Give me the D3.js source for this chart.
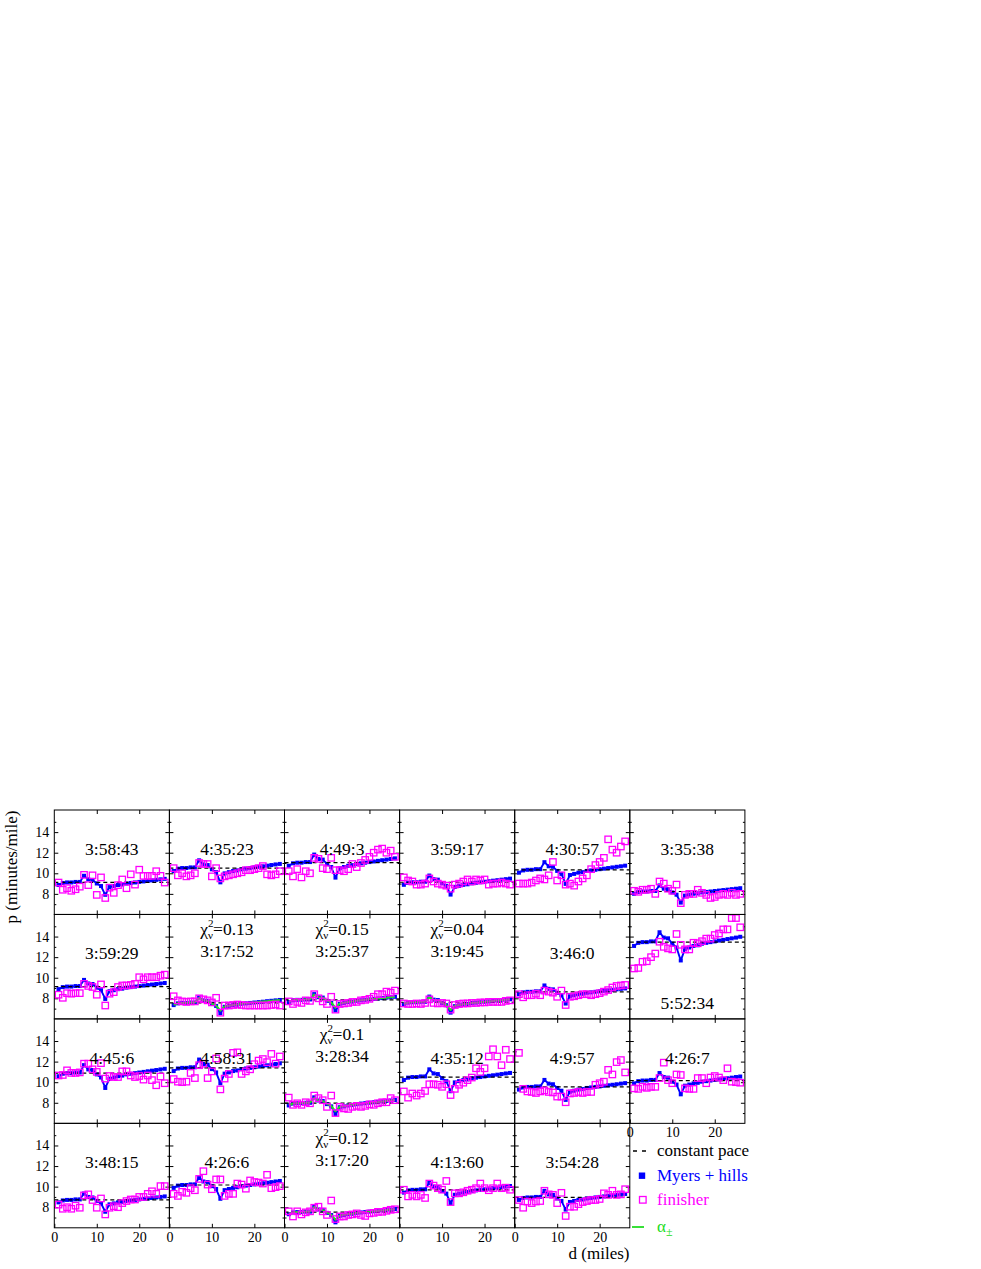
<!DOCTYPE html>
<html><head><meta charset="utf-8">
<script src="https://cdn.jsdelivr.net/npm/d3@7"></script>
<style>
body{margin:0;background:#fff;}
svg{display:block;font-family:"Liberation Serif","Times New Roman","DejaVu Serif",serif;}
svg text{font-family:"Liberation Serif","Times New Roman","DejaVu Serif",serif;}
</style>
</head><body>
<svg id="chart" width="981" height="1269"></svg>
<script>
const miles = [1,2,3,4,5,6,7,8,9,10,11,12,13,14,15,16,17,18,19,20,21,22,23,24,25,26];
const titles = ["3:58:43","4:35:23","4:49:3","3:59:17","4:30:57","3:35:38",
  "3:59:29","3:17:52","3:25:37","3:19:45","3:46:0","5:52:34",
  "4:45:6","4:58:31","3:28:34","4:35:12","4:9:57","4:26:7",
  "3:48:15","4:26:6","3:17:20","4:13:60","3:54:28"];
const chiValues = ["","","","","","",
  "","0.13","0.15","0.04","","",
  "","","0.1","","","",
  "","","0.12","",""];
const constantPace = [9.11,10.51,11.03,9.13,10.34,8.23,9.14,7.55,7.85,7.62,8.63,13.46,
  10.88,11.39,7.96,10.50,9.54,10.16,8.71,10.16,7.53,9.69,8.95];
const myers = [
 [8.86,9.06,9.11,9.11,9.16,9.16,9.76,9.41,9.36,9.01,8.76,7.91,8.66,8.76,8.86,8.91,9.01,9.06,9.11,9.16,9.21,9.26,9.31,9.36,9.41,9.46],
 [10.22,10.45,10.51,10.51,10.57,10.57,11.26,10.86,10.80,10.39,10.11,9.12,9.99,10.11,10.22,10.28,10.39,10.45,10.51,10.57,10.63,10.68,10.74,10.80,10.86,10.91],
 [10.73,10.97,11.03,11.03,11.09,11.09,11.82,11.39,11.33,10.91,10.61,9.58,10.49,10.61,10.73,10.79,10.91,10.97,11.03,11.09,11.15,11.21,11.27,11.33,11.39,11.45],
 [8.88,9.08,9.13,9.13,9.18,9.18,9.78,9.43,9.38,9.03,8.78,7.93,8.68,8.78,8.88,8.93,9.03,9.08,9.13,9.18,9.23,9.28,9.33,9.38,9.43,9.48],
 [10.06,10.28,10.34,10.34,10.40,10.40,11.08,10.68,10.63,10.23,9.94,8.97,9.83,9.94,10.06,10.11,10.23,10.28,10.34,10.40,10.45,10.51,10.57,10.63,10.68,10.74],
 [8.01,8.19,8.23,8.23,8.28,8.28,8.82,8.50,8.46,8.14,7.92,7.15,7.83,7.92,8.01,8.05,8.14,8.19,8.23,8.28,8.32,8.37,8.41,8.46,8.50,8.55],
 [8.89,9.09,9.14,9.14,9.19,9.19,9.79,9.44,9.39,9.04,8.79,7.94,8.69,8.79,8.89,8.94,9.04,9.09,9.14,9.19,9.24,9.29,9.34,9.39,9.44,9.49],
 [7.34,7.51,7.55,7.55,7.59,7.59,8.09,7.80,7.76,7.47,7.26,6.55,7.18,7.26,7.34,7.38,7.47,7.51,7.55,7.59,7.63,7.67,7.72,7.76,7.80,7.84],
 [7.64,7.81,7.85,7.85,7.89,7.89,8.41,8.11,8.07,7.76,7.55,6.82,7.46,7.55,7.64,7.68,7.76,7.81,7.85,7.89,7.94,7.98,8.02,8.07,8.11,8.15],
 [7.41,7.58,7.62,7.62,7.66,7.66,8.17,7.87,7.83,7.54,7.33,6.61,7.24,7.33,7.41,7.45,7.54,7.58,7.62,7.66,7.70,7.75,7.79,7.83,7.87,7.91],
 [8.39,8.58,8.63,8.63,8.68,8.68,9.25,8.92,8.87,8.54,8.30,7.49,8.20,8.30,8.39,8.44,8.54,8.58,8.63,8.68,8.73,8.77,8.82,8.87,8.92,8.96],
 [13.09,13.39,13.46,13.46,13.53,13.53,14.42,13.90,13.83,13.31,12.94,11.68,12.79,12.94,13.09,13.16,13.31,13.39,13.46,13.53,13.61,13.68,13.76,13.83,13.90,13.98],
 [10.58,10.82,10.88,10.88,10.94,10.94,11.66,11.24,11.18,10.76,10.46,9.44,10.34,10.46,10.58,10.64,10.76,10.82,10.88,10.94,11.00,11.06,11.12,11.18,11.24,11.30],
 [11.08,11.33,11.39,11.39,11.45,11.45,12.20,11.77,11.70,11.27,10.95,9.89,10.83,10.95,11.08,11.14,11.27,11.33,11.39,11.45,11.52,11.58,11.64,11.70,11.77,11.83],
 [7.74,7.92,7.96,7.96,8.00,8.00,8.53,8.22,8.18,7.87,7.65,6.91,7.57,7.65,7.74,7.79,7.87,7.92,7.96,8.00,8.05,8.09,8.14,8.18,8.22,8.27],
 [10.21,10.44,10.50,10.50,10.56,10.56,11.25,10.85,10.79,10.39,10.10,9.12,9.98,10.10,10.21,10.27,10.39,10.44,10.50,10.56,10.62,10.67,10.73,10.79,10.85,10.90],
 [9.28,9.49,9.54,9.54,9.59,9.59,10.22,9.86,9.80,9.44,9.17,8.28,9.07,9.17,9.28,9.33,9.44,9.49,9.54,9.59,9.65,9.70,9.75,9.80,9.86,9.91],
 [9.88,10.10,10.16,10.16,10.22,10.22,10.89,10.50,10.44,10.05,9.77,8.82,9.66,9.77,9.88,9.94,10.05,10.10,10.16,10.22,10.27,10.33,10.38,10.44,10.50,10.55],
 [8.47,8.66,8.71,8.71,8.76,8.76,9.33,9.00,8.95,8.61,8.37,7.56,8.28,8.37,8.47,8.52,8.61,8.66,8.71,8.76,8.81,8.85,8.90,8.95,9.00,9.05],
 [9.88,10.10,10.16,10.16,10.22,10.22,10.89,10.50,10.44,10.05,9.77,8.82,9.66,9.77,9.88,9.94,10.05,10.10,10.16,10.22,10.27,10.33,10.38,10.44,10.50,10.55],
 [7.32,7.49,7.53,7.53,7.57,7.57,8.07,7.78,7.74,7.45,7.24,6.53,7.16,7.24,7.32,7.36,7.45,7.49,7.53,7.57,7.61,7.65,7.70,7.74,7.78,7.82],
 [9.42,9.64,9.69,9.69,9.74,9.74,10.38,10.01,9.96,9.58,9.32,8.41,9.21,9.32,9.42,9.48,9.58,9.64,9.69,9.74,9.80,9.85,9.90,9.96,10.01,10.06],
 [8.71,8.90,8.95,8.95,9.00,9.00,9.59,9.24,9.20,8.85,8.61,7.77,8.51,8.61,8.71,8.75,8.85,8.90,8.95,9.00,9.05,9.10,9.15,9.20,9.24,9.29]
];
const finisher = [
 [9.1,8.4,8.55,8.3,8.45,8.7,9.85,8.85,9.8,7.9,9.6,7.6,8.6,8.1,8.85,9.4,8.55,9.9,8.9,10.35,9.75,9.75,9.75,10.2,9.75,9.1],
 [10.5,9.8,10.0,9.7,9.8,10.0,11.0,10.9,10.9,9.7,10.5,9.5,9.7,9.8,9.9,10.0,10.1,10.3,10.3,10.4,10.5,10.7,9.9,9.8,9.9,10.2],
 [10.2,9.7,10.4,9.6,10.2,10.0,11.5,11.4,10.5,10.4,11.5,10.3,10.3,10.2,10.4,10.9,10.6,11.0,11.3,11.6,12.0,12.3,12.4,12.0,12.2,11.6],
 [9.6,9.3,9.2,8.9,8.9,9.0,9.5,9.2,9.0,8.9,8.8,8.5,8.9,9.0,9.2,9.4,9.2,9.4,9.3,9.4,8.9,9.0,9.0,9.1,9.0,8.9],
 [9.0,9.0,9.0,9.1,9.3,9.5,9.4,9.8,11.1,9.3,9.8,8.9,9.0,8.8,9.2,9.5,9.8,10.4,10.8,11.1,11.5,13.3,12.3,12.0,12.6,13.1],
 [8.3,8.2,8.4,8.4,8.5,8.0,9.2,9.0,8.5,8.3,8.9,7.1,7.9,8.0,8.0,8.4,8.1,7.9,7.6,7.7,7.9,8.0,7.9,8.1,7.9,8.0],
 [8.35,8.05,8.5,8.45,8.5,8.5,9.4,9.2,9.1,8.35,9.35,7.3,8.45,8.6,9.1,9.25,9.25,9.3,9.4,10.05,9.85,10.05,10.05,10.05,10.2,10.3],
 [8.2,7.8,7.7,7.65,7.7,7.7,8.0,7.9,7.8,7.6,8.05,6.6,7.3,7.3,7.35,7.4,7.35,7.3,7.3,7.3,7.3,7.3,7.3,7.35,7.4,7.3],
 [7.7,7.45,7.65,7.55,7.8,7.75,8.4,8.0,7.7,7.45,8.15,6.9,7.45,7.5,7.55,7.65,7.65,7.8,7.85,7.95,8.15,8.4,8.4,8.65,8.55,8.75],
 [7.5,7.45,7.45,7.5,7.45,7.55,7.9,7.55,7.5,7.55,7.5,6.9,7.35,7.45,7.5,7.5,7.55,7.55,7.6,7.6,7.65,7.65,7.65,7.65,7.75,7.8],
 [8.4,8.1,8.3,8.3,8.45,8.3,8.75,8.65,8.55,8.15,8.75,7.35,8.15,8.2,8.3,8.4,8.4,8.3,8.4,8.5,8.65,8.8,9.05,9.2,9.25,9.3],
 [10.9,10.95,11.55,11.6,12.0,12.35,13.5,13.0,12.85,12.75,14.25,13.2,12.75,12.75,13.4,13.35,13.55,13.8,13.8,14.15,14.3,14.7,14.7,15.8,15.8,14.9],
 [10.65,10.7,11.15,10.9,10.9,10.95,11.8,11.8,11.25,11.0,11.85,10.35,10.6,10.5,10.5,11.05,11.05,10.65,10.5,10.6,10.25,10.65,10.2,9.7,10.55,9.9],
 [10.3,10.05,10.0,10.05,10.9,10.4,11.65,11.8,10.4,11.05,12.3,9.3,10.35,10.8,12.85,12.9,10.8,11.05,11.25,11.75,12.1,12.25,11.95,12.75,11.8,12.5],
 [8.5,7.8,7.95,7.8,8.05,7.95,8.7,8.45,8.25,7.6,8.7,7.0,7.6,7.45,7.4,7.6,7.7,7.6,7.7,7.85,7.8,7.95,8.05,8.05,8.45,8.25],
 [9.1,8.5,8.9,8.7,8.9,9.15,9.8,9.8,9.75,9.55,9.8,8.75,9.35,9.75,9.95,10.2,10.45,11.35,11.0,11.35,12.5,13.2,12.5,11.65,13.15,12.25],
 [12.85,9.35,9.1,9.05,8.95,9.1,9.2,9.05,9.0,8.6,8.6,8.05,8.9,8.95,9.05,8.95,9.05,9.05,9.75,9.9,10.05,11.2,10.75,11.95,12.15,10.95],
 [9.4,9.35,9.55,9.45,9.55,9.55,10.4,11.9,10.2,9.9,10.75,10.7,9.4,9.35,9.35,10.4,10.4,9.9,10.45,10.6,10.45,10.2,11.35,10.05,10.0,9.95],
 [8.25,7.85,8.0,7.85,8.15,7.95,9.15,9.25,8.7,7.95,8.85,7.3,7.95,8.1,8.0,8.4,8.6,8.75,8.75,9.0,9.0,9.3,9.55,9.3,10.05,10.05],
 [9.3,9.1,9.5,9.4,9.85,9.65,10.75,11.5,10.2,9.75,10.7,10.7,9.1,9.3,9.3,10.3,10.2,9.8,10.6,10.45,10.4,10.3,11.15,9.85,9.95,10.05],
 [7.6,7.1,7.6,7.3,7.5,7.6,7.95,8.05,7.6,7.25,8.65,6.85,7.1,7.1,7.25,7.3,7.4,7.25,7.15,7.4,7.45,7.55,7.55,7.65,7.75,7.8],
 [9.7,9.05,9.2,9.05,9.2,8.9,10.3,10.1,9.85,9.7,10.55,8.5,9.35,9.35,9.45,9.6,9.7,9.85,10.3,9.85,9.65,9.85,10.3,9.85,9.9,9.7],
 [8.7,7.95,8.55,8.4,8.55,8.6,9.6,9.25,9.2,8.4,9.4,7.15,8.05,8.05,8.3,8.5,8.6,8.7,8.7,8.8,9.35,9.2,9.6,9.2,9.25,9.75]
];
const alphaPanels = [7, 8, 9, 14, 20];
const alphaFit = [
 [7.36,7.52,7.55,7.56,7.60,7.60,8.05,7.80,7.76,7.48,7.30,6.80,7.22,7.28,7.35,7.40,7.48,7.52,7.56,7.60,7.64,7.68,7.72,7.76,7.80,7.84],
 [7.66,7.82,7.86,7.86,7.90,7.90,8.37,8.11,8.06,7.78,7.60,7.08,7.50,7.57,7.65,7.69,7.77,7.82,7.86,7.90,7.94,7.98,8.02,8.06,8.10,8.14],
 [7.43,7.59,7.62,7.63,7.67,7.67,8.12,7.87,7.82,7.56,7.37,6.86,7.28,7.34,7.42,7.46,7.54,7.58,7.62,7.66,7.70,7.74,7.78,7.82,7.86,7.90],
 [7.76,7.93,7.96,7.97,8.01,8.01,8.48,8.22,8.17,7.89,7.70,7.17,7.61,7.67,7.75,7.80,7.88,7.92,7.96,8.00,8.04,8.08,8.13,8.17,8.21,8.26],
 [7.34,7.50,7.53,7.54,7.58,7.58,8.03,7.78,7.73,7.47,7.28,6.78,7.20,7.26,7.33,7.37,7.45,7.49,7.53,7.57,7.61,7.65,7.69,7.73,7.77,7.81]
];
const yMajorTicks = [8, 10, 12, 14];
const yMinorTicks = [7, 9, 11, 13, 15];
const xTicks = [0, 10, 20];
const legendItems = ["constant pace", "Myers + hills", "finisher"];

const FONT = '"Liberation Serif","Times New Roman","DejaVu Serif",serif';
const BLUE = "#0000ff", MAGENTA = "#ff00ff", GREEN = "#22dd22";
const gridLeft = 54.3, gridTop = 810, pw = 115.1, ph = 104.45, ncol = 6;

const svg = d3.select("#chart");
svg.append("rect").attr("width", 981).attr("height", 1269).attr("fill", "#fff");

const x = d3.scaleLinear().domain([0, 27.1]).range([0, pw]);
const y = d3.scaleLinear().domain([6, 16.15]).range([ph, 0]);

svg.append("defs").append("clipPath").attr("id", "clipP").append("rect")
  .attr("x", 0).attr("y", 0).attr("width", pw).attr("height", ph);

function styleAxis(g) {
  g.select(".domain").remove();
  g.selectAll(".tick line").attr("stroke", "#000").attr("stroke-width", 1);
  g.attr("font-family", null).attr("font-size", null);
  g.selectAll("text").style("font-family", FONT).style("font-size", "14px").attr("fill", "#000");
}

titles.forEach((title, i) => {
  const row = Math.floor(i / ncol), col = i % ncol;
  const g = svg.append("g").attr("transform", `translate(${gridLeft + col * pw},${gridTop + row * ph})`);
  const showX = (row === 3) || (row === 2 && col === 5);

  styleAxis(g.append("g").call(d3.axisLeft(y).tickValues(yMajorTicks).tickSize(-4).tickPadding(5)
    .tickFormat(col === 0 ? d3.format("d") : () => "")));
  styleAxis(g.append("g").call(d3.axisLeft(y).tickValues(yMinorTicks).tickSize(-2).tickFormat(() => "")));
  styleAxis(g.append("g").attr("transform", `translate(${pw},0)`)
    .call(d3.axisRight(y).tickValues(yMajorTicks).tickSize(-4).tickFormat(() => "")));
  styleAxis(g.append("g").attr("transform", `translate(${pw},0)`)
    .call(d3.axisRight(y).tickValues(yMinorTicks).tickSize(-2).tickFormat(() => "")));
  styleAxis(g.append("g").call(d3.axisTop(x).tickValues(xTicks.slice(1)).tickSize(-4).tickFormat(() => "")));
  styleAxis(g.append("g").attr("transform", `translate(0,${ph})`)
    .call(d3.axisBottom(x).tickValues(showX ? xTicks : xTicks.slice(1)).tickSize(-4).tickPadding(4)
      .tickFormat(showX ? d3.format("d") : () => "")));

  const plot = g.append("g").attr("clip-path", "url(#clipP)");
  const line = d3.line().x((d, k) => x(miles[k])).y(d => y(d));

  plot.append("path").datum(myers[i]).attr("d", line)
    .attr("fill", "none").attr("stroke", BLUE).attr("stroke-width", 1.9).attr("stroke-linejoin", "round");
  plot.selectAll("rect.m").data(myers[i]).join("rect").attr("class", "m")
    .attr("x", (d, k) => x(miles[k]) - 2).attr("y", d => y(d) - 2)
    .attr("width", 4).attr("height", 4).attr("fill", BLUE);

  plot.append("line").attr("x1", x(0)).attr("x2", x(27.1))
    .attr("y1", y(constantPace[i])).attr("y2", y(constantPace[i]))
    .attr("stroke", "#000").attr("stroke-width", 1.2).attr("stroke-dasharray", "4,3");

  const ai = alphaPanels.indexOf(i);
  if (ai >= 0) {
    plot.append("path").datum(alphaFit[ai]).attr("d", line)
      .attr("fill", "none").attr("stroke", GREEN).attr("stroke-width", 2).attr("stroke-linejoin", "round");
  }

  plot.selectAll("rect.f").data(finisher[i]).join("rect").attr("class", "f")
    .attr("x", (d, k) => x(miles[k]) - 3.2).attr("y", d => y(d) - 3.2)
    .attr("width", 6.4).attr("height", 6.4).attr("fill", "none")
    .attr("stroke", MAGENTA).attr("stroke-width", 1.3);

  g.append("rect").attr("width", pw).attr("height", ph).attr("fill", "none")
    .attr("stroke", "#000").attr("stroke-width", 1);

  const cx = pw / 2;
  const tstyle = t => t.attr("text-anchor", "middle").style("font-family", FONT)
    .style("font-size", "17.5px").attr("fill", "#000");
  if (chiValues[i]) {
    const t = g.append("text").attr("x", cx).attr("y", 21).call(tstyle);
    t.append("tspan").text("χ");
    t.append("tspan").attr("dy", -8).style("font-size", "11px").text("2");
    t.append("tspan").attr("dx", -5.5).attr("dy", 12).style("font-size", "11px").text("ν");
    t.append("tspan").attr("dy", -4).text("=" + chiValues[i]);
    g.append("text").attr("x", cx).attr("y", 43).call(tstyle).text(title);
  } else if (i === 11) {
    g.append("text").attr("x", cx).attr("y", 95).call(tstyle).text(title);
  } else {
    g.append("text").attr("x", cx).attr("y", 45).call(tstyle).text(title);
  }
});

svg.append("text").attr("transform", "translate(17,867) rotate(-90)")
  .attr("text-anchor", "middle").style("font-family", FONT).style("font-size", "17px").text("p (minutes/mile)");
svg.append("text").attr("x", 599).attr("y", 1259)
  .attr("text-anchor", "middle").style("font-family", FONT).style("font-size", "17px").text("d (miles)");

const lg = svg.append("g").style("font-family", FONT);
lg.append("line").attr("x1", 633).attr("x2", 649).attr("y1", 1151).attr("y2", 1151)
  .attr("stroke", "#000").attr("stroke-width", 1.3).attr("stroke-dasharray", "4,5");
lg.append("text").attr("x", 657).attr("y", 1156).style("font-size", "17px").attr("fill", "#000").text(legendItems[0]);
lg.append("rect").attr("x", 638.8).attr("y", 1172.5).attr("width", 6.4).attr("height", 6.4).attr("fill", BLUE);
lg.append("text").attr("x", 657).attr("y", 1181).style("font-size", "17px").attr("fill", BLUE).text(legendItems[1]);
lg.append("rect").attr("x", 639.5).attr("y", 1196.5).attr("width", 6.6).attr("height", 6.6)
  .attr("fill", "none").attr("stroke", MAGENTA).attr("stroke-width", 1.3);
lg.append("text").attr("x", 657).attr("y", 1205).style("font-size", "17px").attr("fill", MAGENTA).text(legendItems[2]);
lg.append("line").attr("x1", 632).attr("x2", 644).attr("y1", 1227).attr("y2", 1227)
  .attr("stroke", GREEN).attr("stroke-width", 1.8);
const at = lg.append("text").attr("x", 657).attr("y", 1232).style("font-size", "17px").attr("fill", GREEN);
at.append("tspan").text("α");
at.append("tspan").attr("dy", 4).style("font-size", "12px").text("±");
</script>
</body></html>
